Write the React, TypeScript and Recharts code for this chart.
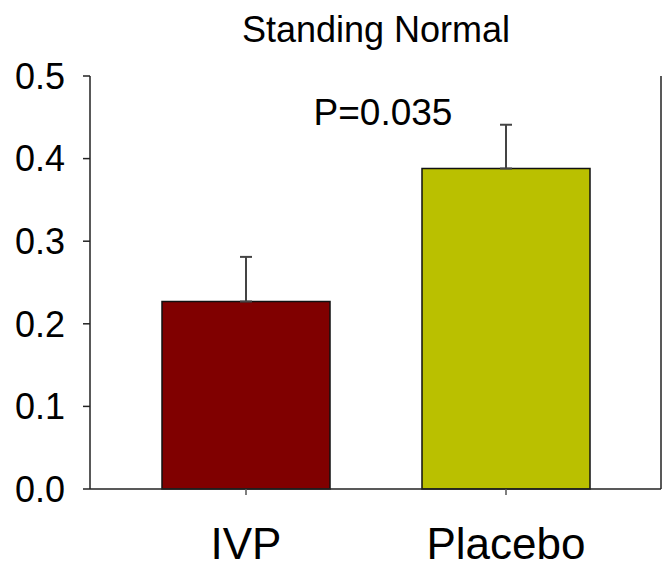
import React from 'react';
import { BarChart, Bar, XAxis, YAxis, ErrorBar, Cell, Customized } from 'recharts';

const categories = ['IVP', 'Placebo'];
const means = [0.227, 0.388];
const sems = [0.054, 0.053];
const colors = ['#800000', '#BAC000'];
const yTicks = [0, 0.1, 0.2, 0.3, 0.4, 0.5];
const title = 'Standing Normal';
const pText = 'P=0.035';

const data = categories.map((c, i) => ({ name: c, value: means[i], err: [0, sems[i]] }));

const FONT = '"Liberation Sans", Arial, sans-serif';

export default function App() {
  return (
    <div style={{ position: 'absolute', left: 0, top: 0 }}>
      <BarChart width={663} height={567} data={data} margin={{ top: 76, right: 0, left: 0, bottom: 0 }}>
        <XAxis
          dataKey="name"
          height={78}
          padding={{ left: 26, right: 25 }}
          tickSize={6}
          tickMargin={33}
          axisLine={{ stroke: '#222', strokeWidth: 1.5 }}
          tickLine={{ stroke: '#555', strokeWidth: 1.5 }}
          tick={{ fill: '#000', fontSize: 44, fontFamily: FONT }}
        />
        <XAxis xAxisId="top" orientation="top" dataKey="name" height={0} tick={false} tickLine={false}
          axisLine={{ stroke: '#222', strokeWidth: 1.5 }} />
        <YAxis
          width={90}
          domain={[0, 0.5]}
          ticks={yTicks}
          tickFormatter={(v: number) => v.toFixed(1)}
          tickSize={7}
          tickMargin={18}
          interval={0}
          axisLine={{ stroke: '#222', strokeWidth: 1.5 }}
          tickLine={{ stroke: '#222', strokeWidth: 1.5 }}
          tick={{ fill: '#000', fontSize: 36, fontFamily: FONT }}
        />
        <YAxis yAxisId="right" orientation="right" width={2} domain={[0, 0.5]} tick={false} tickLine={false}
          axisLine={{ stroke: '#222', strokeWidth: 1.5 }} />
        <Bar dataKey="value" barSize={168} stroke="#111" strokeWidth={1.5} isAnimationActive={false}>
          {data.map((d, i) => (
            <Cell key={d.name} fill={colors[i]} />
          ))}
          <ErrorBar dataKey="err" width={6} stroke="#444" strokeWidth={2} isAnimationActive={false} />
        </Bar>
        <Customized
          component={() => (
            <g>
              <text x={376} y={42} textAnchor="middle" fontSize={36} fontFamily={FONT} fill="#000">{title}</text>
              <text x={383} y={125} textAnchor="middle" fontSize={37} fontFamily={FONT} fill="#000">{pText}</text>
            </g>
          )}
        />
      </BarChart>
    </div>
  );
}
